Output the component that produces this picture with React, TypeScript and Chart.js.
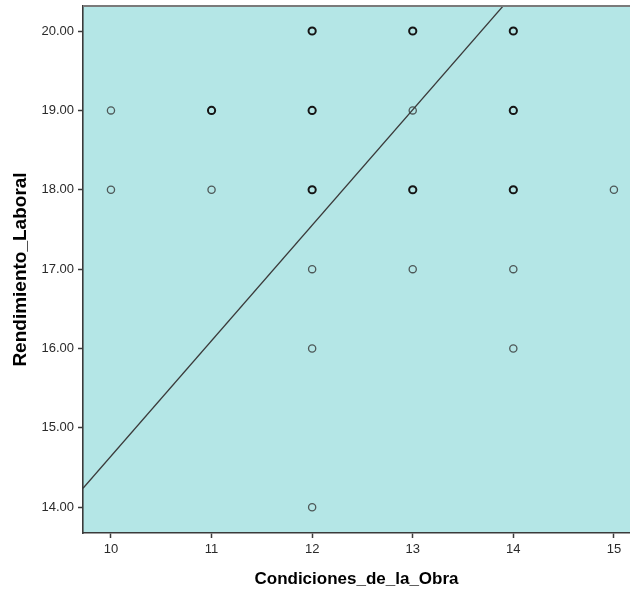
import React, { useEffect, useRef } from "react";
import { Chart, registerables } from "chart.js";

Chart.register(...registerables);

// Scatter data (Condiciones_de_la_Obra vs Rendimiento_Laboral)
const condiciones = [10, 10, 11, 11, 12, 12, 12, 12, 12, 12, 13, 13, 13, 13, 14, 14, 14, 14, 14, 15];
const rendimiento = [19, 18, 19, 18, 20, 19, 18, 17, 16, 14, 20, 19, 18, 17, 20, 19, 18, 17, 16, 18];
// number of overlapping cases at each point (estimated from darker markers)
const frecuencia = [1, 1, 2, 1, 2, 2, 2, 1, 1, 1, 2, 1, 2, 1, 2, 2, 2, 1, 1, 1];

const xTicks = [10, 11, 12, 13, 14, 15];
const yTicks = [14, 15, 16, 17, 18, 19, 20];

const xMin = 9.722;
const xMax = 15.16;
const yMin = 13.676;
const yMax = 20.315;

// fit line endpoints
const fitX = [9.722, 15.16];
const fitY = [14.24, 22.15];

const BG = "#b4e6e6";

const bgPlugin = {
  id: "plotBg",
  beforeDraw(chart: any) {
    const { ctx, chartArea } = chart;
    ctx.save();
    ctx.fillStyle = BG;
    ctx.fillRect(chartArea.left, chartArea.top, chartArea.right - chartArea.left, chartArea.bottom - chartArea.top);
    ctx.restore();
  },
  afterDraw(chart: any) {
    const { ctx, chartArea } = chart;
    ctx.save();
    ctx.strokeStyle = "#7a7a7a";
    ctx.lineWidth = 2;
    ctx.beginPath();
    ctx.moveTo(chartArea.left, chartArea.top);
    ctx.lineTo(chartArea.right, chartArea.top);
    ctx.stroke();
    ctx.restore();
  },
};

export default function App() {
  const ref = useRef<HTMLCanvasElement>(null);

  useEffect(() => {
    document.body.style.margin = "0";
    const canvas = ref.current;
    if (!canvas) return;
    const points = condiciones.map((x, i) => ({ x, y: rendimiento[i] }));
    const chart = new Chart(canvas, {
      type: "scatter",
      data: {
        datasets: [
          {
            type: "line" as any,
            data: fitX.map((x, i) => ({ x, y: fitY[i] })),
            borderColor: "#3a3a3a",
            borderWidth: 1.3,
            pointRadius: 0,
            fill: false,
          } as any,
          {
            data: points,
            pointStyle: "circle",
            pointRadius: 3.6,
            backgroundColor: "rgba(0,0,0,0)",
            borderColor: (c: any) => (frecuencia[c.dataIndex] > 1 ? "#151515" : "#4d5858"),
            pointBorderWidth: (c: any) => (frecuencia[c.dataIndex] > 1 ? 2 : 1.3),
          } as any,
        ],
      },
      options: {
        responsive: false,
        animation: false,
        layout: { autoPadding: false, padding: { top: 6, left: 0, right: 0, bottom: 0 } },
        plugins: { legend: { display: false }, tooltip: { enabled: false } },
        scales: {
          x: {
            type: "linear",
            min: xMin,
            max: xMax,
            afterBuildTicks: (s: any) => {
              s.ticks = xTicks.map((v) => ({ value: v }));
            },
            afterFit: (s: any) => {
              s.height = 57;
              s.paddingLeft = 0;
              s.paddingRight = 0;
            },
            border: { display: true, color: "#3a3a3a", width: 1.6 },
            grid: { display: true, drawOnChartArea: false, drawTicks: true, tickLength: 5, tickColor: "#3a3a3a", tickWidth: 1.5 },
            ticks: {
              color: "#2a2a2a",
              font: { family: "'Liberation Sans', Arial, sans-serif", size: 13 },
              padding: 4,
              maxRotation: 0,
              callback: (v: any) => String(v),
            },
            title: {
              display: true,
              text: "Condiciones_de_la_Obra",
              color: "#000",
              font: { family: "'Liberation Sans', Arial, sans-serif", size: 17, weight: "bold" },
              padding: { top: 0, bottom: 0 },
            },
          },
          y: {
            type: "linear",
            min: yMin,
            max: yMax,
            afterBuildTicks: (s: any) => {
              s.ticks = yTicks.map((v) => ({ value: v }));
            },
            afterFit: (s: any) => {
              s.width = 83;
              s.paddingTop = 0;
              s.paddingBottom = 0;
            },
            border: { display: true, color: "#3a3a3a", width: 1.6 },
            grid: { display: true, drawOnChartArea: false, drawTicks: true, tickLength: 5, tickColor: "#3a3a3a", tickWidth: 1.5 },
            ticks: {
              color: "#2a2a2a",
              font: { family: "'Liberation Sans', Arial, sans-serif", size: 13 },
              padding: 4,
              callback: (v: any) => Number(v).toFixed(2),
            },
            title: {
              display: true,
              text: "Rendimiento_Laboral",
              color: "#000",
              font: { family: "'Liberation Sans', Arial, sans-serif", size: 19, weight: "bold" },
              padding: { top: 9, bottom: 0 },
            },
          },
        },
      },
      plugins: [bgPlugin],
    });
    return () => chart.destroy();
  }, []);

  return <canvas ref={ref} width={630} height={590} style={{ display: "block" }} />;
}
